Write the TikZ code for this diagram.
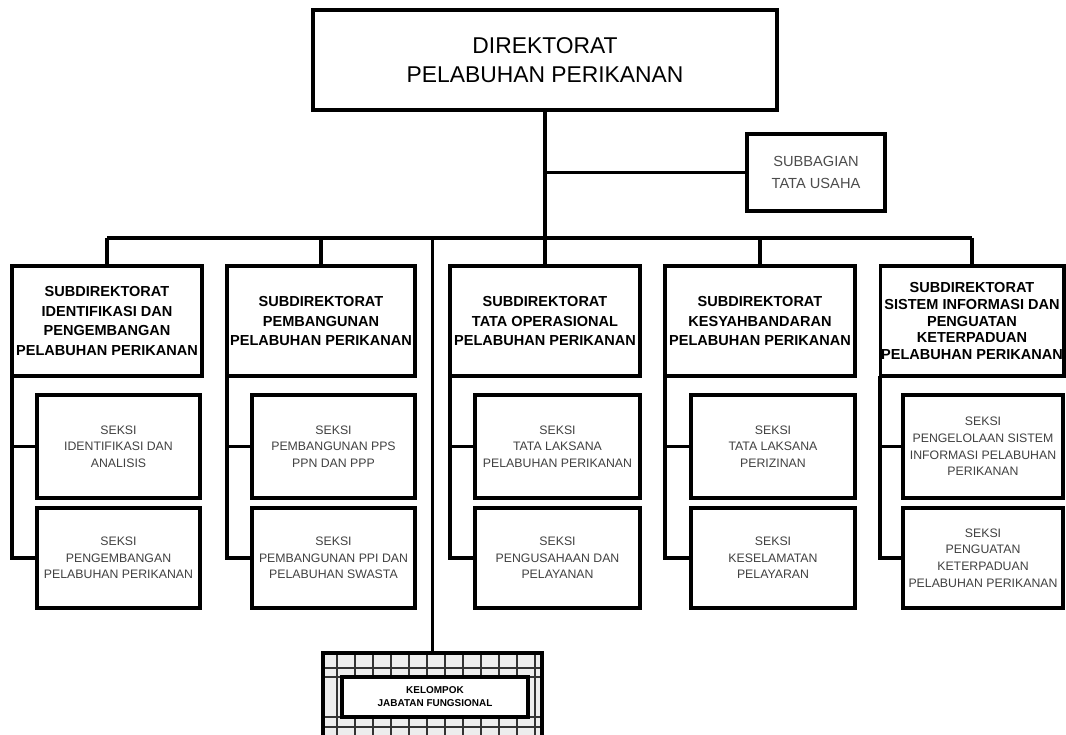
\documentclass[tikz,border=0pt]{standalone}
\usepackage{fontspec}
\setmainfont{Liberation Sans}

\begin{document}
\begin{tikzpicture}[x=0.3mm, y=-0.3mm,
  conn/.style={line width=2.9pt},
  kotak/.style={draw, line width=2.6pt, align=center, inner sep=1pt, outer sep=0pt},
  dirbox/.style={kotak, minimum width=139.2mm, minimum height=30mm,
    font={\fontsize{19.5}{24.7}\selectfont}},
  tubox/.style={kotak, minimum width=41.4mm, minimum height=23.1mm, text=black!70,
    font={\fontsize{12.5}{18}\selectfont}},
  subdir/.style={kotak, minimum height=33mm,
    font={\fontsize{12.4}{17}\selectfont\bfseries}},
  seksi/.style={kotak, text=black!75,
    font={\fontsize{10.5}{14.2}\selectfont}},
  gridline/.style={line width=0.9pt, black!80}]

\useasboundingbox (0,0) rectangle (1066,735);

% Direktorat and Subbagian
\node[dirbox] (dir) at (545,60) {DIREKTORAT\\PELABUHAN PERIKANAN};
\node[tubox] (tu) at (816,172.5) {SUBBAGIAN\\TATA USAHA};

% Subdirektorat
\node[subdir, minimum width=57mm] (sd1) at (107,321)
  {SUBDIREKTORAT\\IDENTIFIKASI DAN\\PENGEMBANGAN\\PELABUHAN PERIKANAN};
\node[subdir, minimum width=56.4mm] (sd2) at (321,321)
  {SUBDIREKTORAT\\PEMBANGUNAN\\PELABUHAN PERIKANAN};
\node[subdir, minimum width=57mm] (sd3) at (545,321)
  {SUBDIREKTORAT\\TATA OPERASIONAL\\PELABUHAN PERIKANAN};
\node[subdir, minimum width=57mm] (sd4) at (760,321)
  {SUBDIREKTORAT\\KESYAHBANDARAN\\PELABUHAN PERIKANAN};
\node[subdir, minimum width=54.6mm, font={\fontsize{12.4}{14.5}\selectfont\bfseries}] (sd5) at (972,321)
  {SUBDIREKTORAT\\SISTEM INFORMASI DAN\\PENGUATAN\\KETERPADUAN\\PELABUHAN PERIKANAN};

% Seksi, first row
\node[seksi, minimum width=48.9mm, minimum height=30.9mm] (s1a) at (118.5,446.5)
  {SEKSI\\IDENTIFIKASI DAN\\ANALISIS};
\node[seksi, minimum width=48.9mm, minimum height=30.9mm] (s2a) at (333.5,446.5)
  {SEKSI\\PEMBANGUNAN PPS\\PPN DAN PPP};
\node[seksi, minimum width=49.5mm, minimum height=30.9mm] (s3a) at (557.5,446.5)
  {SEKSI\\TATA LAKSANA\\PELABUHAN PERIKANAN};
\node[seksi, minimum width=49.2mm, minimum height=30.9mm] (s4a) at (773,446.5)
  {SEKSI\\TATA LAKSANA\\PERIZINAN};
\node[seksi, minimum width=48mm, minimum height=30.9mm] (s5a) at (983,446.5)
  {SEKSI\\PENGELOLAAN SISTEM\\INFORMASI PELABUHAN\\PERIKANAN};

% Seksi, second row
\node[seksi, minimum width=48.9mm, minimum height=30mm] (s1b) at (118.5,558)
  {SEKSI\\PENGEMBANGAN\\PELABUHAN PERIKANAN};
\node[seksi, minimum width=48.9mm, minimum height=30mm] (s2b) at (333.5,558)
  {SEKSI\\PEMBANGUNAN PPI DAN\\PELABUHAN SWASTA};
\node[seksi, minimum width=49.5mm, minimum height=30mm] (s3b) at (557.5,558)
  {SEKSI\\PENGUSAHAAN DAN\\PELAYANAN};
\node[seksi, minimum width=49.2mm, minimum height=30mm] (s4b) at (773,558)
  {SEKSI\\KESELAMATAN\\PELAYARAN};
\node[seksi, minimum width=48mm, minimum height=30mm] (s5b) at (983,558)
  {SEKSI\\PENGUATAN\\KETERPADUAN\\PELABUHAN PERIKANAN};

% Kelompok jabatan fungsional (cut by the page edge)
\begin{scope}
\clip (0,0) rectangle (1066,735);
\node[kotak, fill=black!7, minimum width=65.7mm, minimum height=27.6mm] (kfr) at (432.5,699) {};
\foreach \gx in {337,355,...,535}
  \draw[gridline] (\gx,653) -- (\gx,745);
\foreach \gy in {668,677,717,727}
  \draw[gridline] (323,\gy) -- (542,\gy);
\draw[line width=2.6pt] (kfr.north west) rectangle (kfr.south east);
\node[kotak, fill=white, minimum width=55.8mm, minimum height=12mm,
  font={\fontsize{8.5}{11}\selectfont\bfseries}] (kjf) at (435,697)
  {KELOMPOK\\JABATAN FUNGSIONAL};
\end{scope}

% Lines
\coordinate (bar) at (545,238);
\draw[conn] (dir.south) -- (sd3.north);
\draw[conn] (dir.south |- tu.west) -- (tu.west);
\draw[conn] (sd1.north |- bar) -- (sd5.north |- bar);
\foreach \n in {sd1,sd2,sd4,sd5}
  \draw[conn] (\n.north |- bar) -- (\n.north);
\draw[conn] (kfr.north |- bar) -- (kfr.north);
\foreach \n/\a/\b in {sd1/s1a/s1b, sd2/s2a/s2b, sd3/s3a/s3b, sd4/s4a/s4b, sd5/s5a/s5b} {
  \draw[conn] (\n.south west) |- (\b.west);
  \draw[conn] (\n.south west |- \a.west) -- (\a.west);
}

\end{tikzpicture}
\end{document}
